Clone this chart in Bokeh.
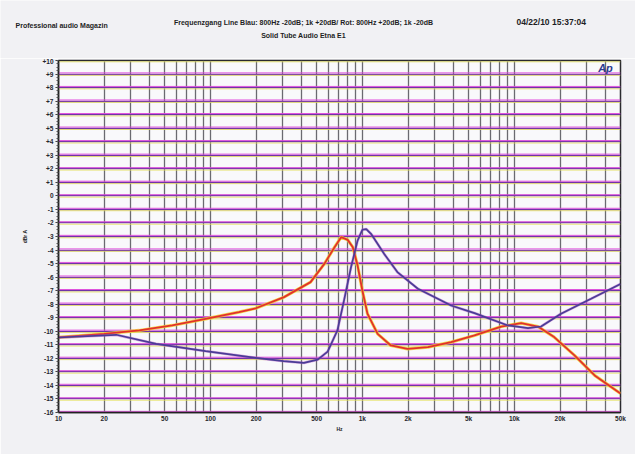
import numpy as np
from bokeh.plotting import figure
from bokeh.layouts import column
from bokeh.models import FixedTicker, Label, Span, ColumnDataSource
from bokeh.embed import file_html
from bokeh.resources import INLINE

# ---------------- data ----------------
blue_freq = [10, 24, 44, 93, 199, 303, 412, 508, 591, 685, 758, 842, 930, 1000, 1060,
             1140, 1390, 1700, 2320, 3840, 5470, 9090, 12300, 15000, 20300, 32000, 50000]
blue_db = [-10.46, -10.26, -10.93, -11.47, -11.96, -12.2, -12.33, -12.1, -11.5, -9.94, -7.7,
           -5.27, -3.3, -2.5, -2.45, -2.8, -4.28, -5.63, -6.86, -8.1, -8.66, -9.57, -9.77,
           -9.65, -8.7, -7.6, -6.5]

red_freq = [10, 20, 34, 56, 93, 154, 199, 305, 456, 562, 656, 725, 801, 865, 930, 1000,
            1080, 1260, 1540, 1980, 2700, 3840, 5470, 8200, 11100, 14300, 18300, 24900,
            33800, 50000]
red_db = [-10.45, -10.19, -9.94, -9.57, -9.08, -8.59, -8.3, -7.48, -6.37, -5.02, -3.79,
          -3.05, -3.25, -3.79, -5.14, -6.99, -8.7, -10.19, -11.05, -11.3, -11.17, -10.8,
          -10.31, -9.65, -9.4, -9.65, -10.43, -11.78, -13.26, -14.6]

x_ticks = [10, 20, 50, 100, 200, 500, 1000, 2000, 5000, 10000, 20000, 50000]
x_tick_labels = ["10", "20", "50", "100", "200", "500", "1k", "2k", "5k", "10k", "20k", "50k"]
y_ticks = list(range(-16, 11))
y_tick_labels = [("+%d" % v if v > 0 else "%d" % v) for v in y_ticks]

title_left = "Professional audio Magazin"
title_main = "Frequenzgang Line Blau: 800Hz -20dB; 1k +20dB/ Rot: 800Hz +20dB; 1k -20dB"
title_sub = "Solid Tube Audio Etna E1"
title_date = "04/22/10 15:37:04"
x_label = "Hz"
y_label = "dBr A"

FONT = "Liberation Sans"
PAPER = "#f1f1f4"
INK = "#1e1e24"

W, H = 635, 454
HEAD = 58                          # header strip height
FL, FR, FT, FB = 58, 620, 60, 412  # frame edges in page pixels

# ---------------- header with the titles ----------------
head = figure(width=W, height=HEAD, x_range=(0, W), y_range=(0, HEAD),
              output_backend="svg", toolbar_location=None,
              x_axis_location=None, y_axis_location=None,
              min_border_left=0, min_border_right=0, min_border_top=0, min_border_bottom=0,
              background_fill_color=PAPER, border_fill_color=PAPER, outline_line_color=None,
              frame_align=False)
head.xgrid.visible = False
head.ygrid.visible = False

def hlab(text, px, py, size, align="left"):
    head.add_layout(Label(x=px, y=HEAD - py, text=text, text_font=FONT, text_font_size=size,
                          text_font_style="bold", text_color=INK, text_align=align,
                          text_baseline="middle"))

hlab(title_left, 15, 25, "7px")
hlab(title_main, 303, 22, "7px", align="center")
hlab(title_sub, 303, 35, "7px", align="center")
hlab(title_date, 516, 21, "8.5px")

# ---------------- main chart ----------------
p = figure(width=W, height=H - HEAD, x_axis_type="log", x_range=(10, 50000), y_range=(-16, 10),
           output_backend="svg", toolbar_location=None,
           min_border_left=FL, min_border_right=W - FR, min_border_top=FT - HEAD,
           min_border_bottom=H - FB,
           background_fill_color="#f9f9fb", border_fill_color=PAPER,
           outline_line_color="#2a2a2e", outline_line_width=1.5, frame_align=False)

grid_x = [m * d for d in [10, 100, 1000, 10000] for m in range(1, 10)] + [50000]
grid_x = [g for g in grid_x if 10 <= g <= 50000]
p.xgrid.ticker = FixedTicker(ticks=grid_x)
p.xgrid.grid_line_color = "#6a6a70"
p.xgrid.grid_line_width = 1.3
p.ygrid.ticker = FixedTicker(ticks=y_ticks)
p.ygrid.grid_line_color = "#7034a8"
p.ygrid.grid_line_width = 1.4
for v in y_ticks:
    p.add_layout(Span(location=v + 0.085, dimension="width", line_color="#e048dc",
                      line_width=1, line_alpha=0.9, level="underlay"))
    p.add_layout(Span(location=v - 0.095, dimension="width", line_color="#e4e05a",
                      line_width=1, line_alpha=0.8, level="underlay"))

p.xaxis.ticker = FixedTicker(ticks=x_ticks)
p.xaxis.major_label_overrides = {t: l for t, l in zip(x_ticks, x_tick_labels)}
p.yaxis.ticker = FixedTicker(ticks=y_ticks, minor_ticks=list(np.arange(-16, 10.01, 0.25)))
p.yaxis.major_label_overrides = {t: l for t, l in zip(y_ticks, y_tick_labels)}
for ax in (p.xaxis[0], p.yaxis[0]):
    ax.axis_line_color = "#222"
    ax.axis_line_width = 1.5
    ax.major_label_text_font = FONT
    ax.major_label_text_font_size = "6.5px"
    ax.major_label_text_font_style = "bold"
    ax.major_label_text_color = "#26262c"
    ax.axis_label_text_font = FONT
    ax.axis_label_text_font_size = "5px"
    ax.axis_label_text_font_style = "bold"
    ax.axis_label_text_color = INK
p.xaxis.axis_label = x_label
p.yaxis.axis_label = y_label
p.xaxis.axis_label_standoff = 1
p.yaxis.axis_label_standoff = 11
p.xaxis.major_tick_in = 0
p.xaxis.major_tick_out = 0
p.xaxis.minor_tick_in = 0
p.xaxis.minor_tick_out = 0
p.xaxis.major_tick_line_color = None
p.xaxis.minor_tick_line_color = None
p.xaxis.major_label_standoff = 2
p.yaxis.major_tick_in = 0
p.yaxis.major_tick_out = 3
p.yaxis.minor_tick_in = 0
p.yaxis.minor_tick_out = 2
p.yaxis.major_tick_line_color = "#333"
p.yaxis.minor_tick_line_color = "#555"
p.yaxis.major_label_standoff = 2

red_src = ColumnDataSource(dict(f=red_freq, db=red_db))
blue_src = ColumnDataSource(dict(f=blue_freq, db=blue_db))
p.line("f", "db", source=red_src, line_color="#f2d030", line_width=3.2, line_alpha=0.85)
p.line("f", "db", source=red_src, line_color="#e2302c", line_width=1.8)
p.line("f", "db", source=blue_src, line_color="#b24ac8", line_width=2.8, line_alpha=0.45)
p.line("f", "db", source=blue_src, line_color="#4a3d96", line_width=1.7)

# Audio Precision logo, inside the frame (frame-relative screen units)
p.add_layout(Label(x=605 - FL, y=FB - 67, x_units="screen", y_units="screen", text="Ap",
                   text_font=FONT, text_font_size="11px", text_font_style="bold italic",
                   text_color="#2b3a8e", text_align="center", text_baseline="middle"))

layout = column(head, p, spacing=0)
open("out.html", "w").write(file_html(layout, INLINE))
